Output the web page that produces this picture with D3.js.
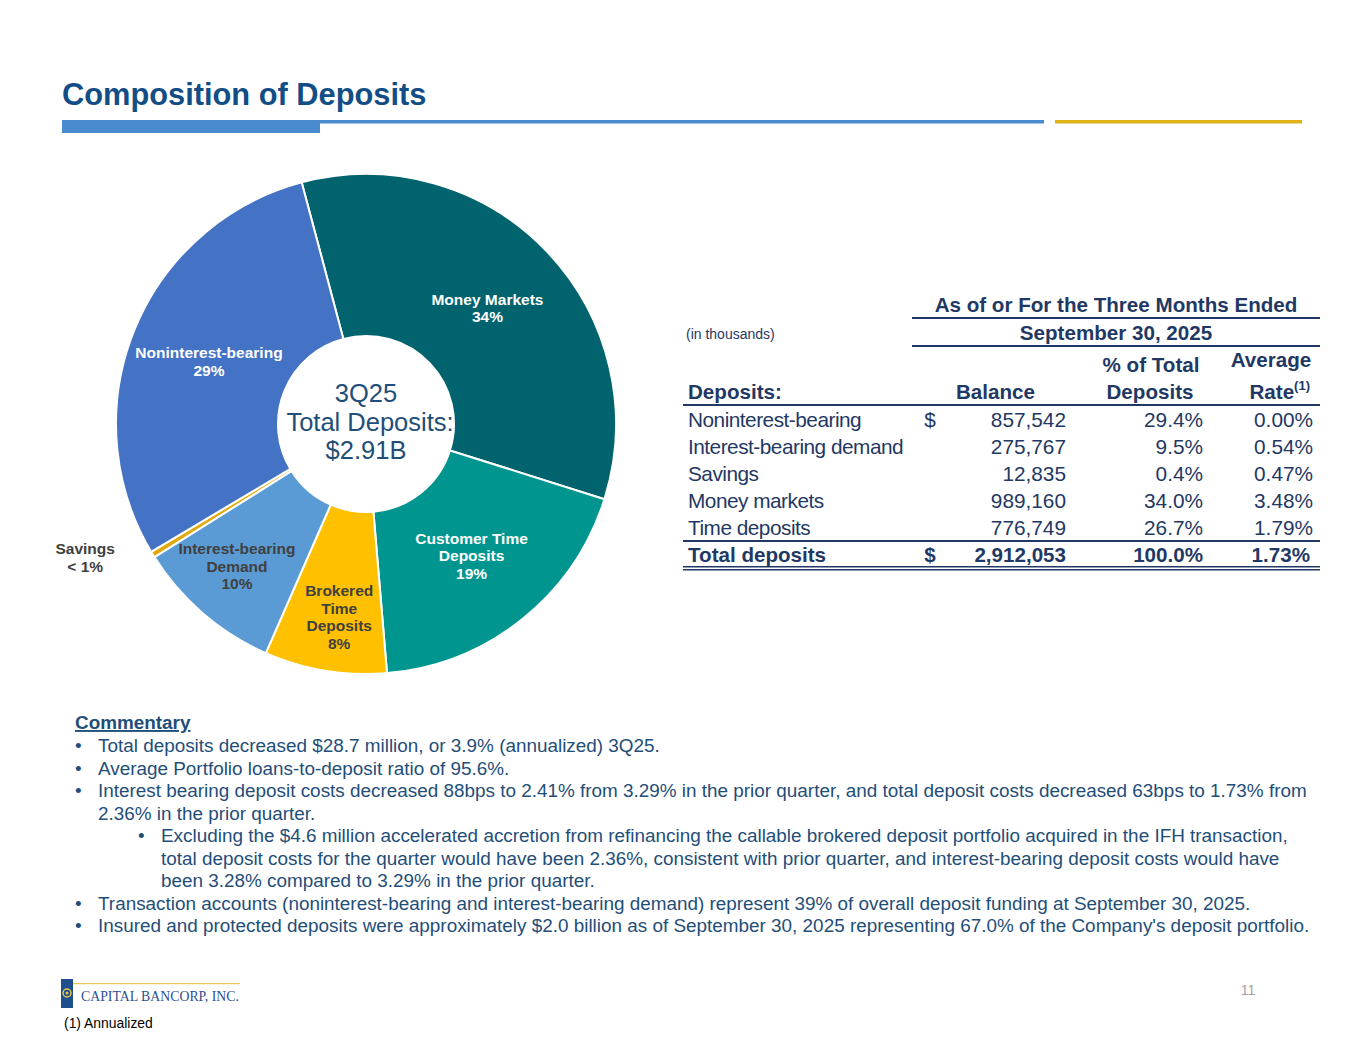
<!DOCTYPE html>
<html>
<head>
<meta charset="utf-8">
<script src="https://cdn.jsdelivr.net/npm/d3@7/dist/d3.min.js"></script>
<style>
  body { margin: 0; background: #fff; }
  svg { display: block; font-family: Arial, "Liberation Sans", sans-serif; }
</style>
</head>
<body>
<svg id="chart" width="1365" height="1055"></svg>
<script>
// pie data (percent of total deposits), clockwise from Money Markets
var sliceNames = ["Money Markets", "Customer Time Deposits", "Brokered Time Deposits", "Interest-bearing Demand", "Savings", "Noninterest-bearing"],
    sliceValues = [34.0, 18.8, 7.9, 9.5, 0.4, 29.4],
    sliceLabels = [["Money Markets", "34%"], ["Customer Time", "Deposits", "19%"], ["Brokered", "Time", "Deposits", "8%"],
                   ["Interest-bearing", "Demand", "10%"], ["Savings", "< 1%"], ["Noninterest-bearing", "29%"]];

// table data
var rowNames = ["Noninterest-bearing", "Interest-bearing demand", "Savings", "Money markets", "Time deposits"],
    rowBalance = ["857,542", "275,767", "12,835", "989,160", "776,749"],
    rowPct = ["29.4%", "9.5%", "0.4%", "34.0%", "26.7%"],
    rowRate = ["0.00%", "0.54%", "0.47%", "3.48%", "1.79%"],
    totalRow = ["Total deposits", "2,912,053", "100.0%", "1.73%"];

var commentary = [
    [0, "Total deposits decreased $28.7 million, or 3.9% (annualized) 3Q25."],
    [0, "Average Portfolio loans-to-deposit ratio of 95.6%."],
    [0, "Interest bearing deposit costs decreased 88bps to 2.41% from 3.29% in the prior quarter, and total deposit costs decreased 63bps to 1.73% from", "2.36% in the prior quarter."],
    [1, "Excluding the $4.6 million accelerated accretion from refinancing the callable brokered deposit portfolio acquired in the IFH transaction,", "total deposit costs for the quarter would have been 2.36%, consistent with prior quarter, and interest-bearing deposit costs would have", "been 3.28% compared to 3.29% in the prior quarter."],
    [0, "Transaction accounts (noninterest-bearing and interest-bearing demand) represent 39% of overall deposit funding at September 30, 2025."],
    [0, "Insured and protected deposits were approximately $2.0 billion as of September 30, 2025 representing 67.0% of the Company's deposit portfolio."]
];

var sliceColors = ["#00636e", "#00968f", "#ffc000", "#5b9bd5", "#e3a90c", "#4472c4"],
    labelColors = ["#fff", "#fff", "#404040", "#404040", "#404040", "#fff"],
    // label radius and angle nudge (deg) per slice
    labelPlace = [[168, 0], [169, 0], [195, -1.5], [192, 1.5], [311, 6], [169, -0.5]];

var svg = d3.select("#chart"),
    navy = "#1f3864",
    blue = "#1f4e79";

// title and rules
svg.append("text").attr("x", 62).attr("y", 105).attr("fill", "#124d85")
    .attr("font-size", 30.8).attr("font-weight", "bold").text("Composition of Deposits");
svg.append("rect").attr("x", 62).attr("y", 120).attr("width", 982).attr("height", 3.5).attr("fill", "#4a8bd0");
svg.append("rect").attr("x", 62).attr("y", 120).attr("width", 258).attr("height", 13).attr("fill", "#4a8bd0");
svg.append("rect").attr("x", 1055).attr("y", 120).attr("width", 247).attr("height", 3.5).attr("fill", "#e0b31a");

// donut
var cx = 366, cy = 424, outerR = 250, innerR = 88;
var pie = d3.pie().sort(null).value(function(d) { return d; })
    .startAngle(-14.9 * Math.PI / 180).endAngle((360 - 14.9) * Math.PI / 180);
var arcs = pie(sliceValues);
var arc = d3.arc().innerRadius(innerR).outerRadius(outerR);
var g = svg.append("g").attr("transform", "translate(" + cx + "," + cy + ")");

g.selectAll("path.slice").data(arcs).enter().append("path")
    .attr("class", "slice")
    .attr("d", arc)
    .attr("fill", function(d, i) { return sliceColors[i]; })
    .attr("stroke", "#fff").attr("stroke-width", 2);

g.selectAll("text.slabel").data(arcs).enter().append("text")
    .attr("class", "slabel")
    .attr("text-anchor", "middle")
    .attr("font-size", 15.5).attr("font-weight", "bold")
    .attr("fill", function(d, i) { return labelColors[i]; })
    .each(function(d, i) {
        var lines = sliceLabels[i],
            a = (d.startAngle + d.endAngle) / 2 + labelPlace[i][1] * Math.PI / 180,
            r = labelPlace[i][0],
            x = r * Math.sin(a), y = -r * Math.cos(a),
            lh = 17.7, y0 = y - (lines.length - 1) * lh / 2 + 5.5;
        var t = d3.select(this);
        lines.forEach(function(l, k) {
            t.append("tspan").attr("x", x).attr("y", y0 + k * lh).text(l);
        });
    });

var centerLines = ["3Q25", "Total Deposits:", "$2.91B"];
g.selectAll("text.center").data(centerLines).enter().append("text")
    .attr("class", "center").attr("text-anchor", "middle")
    .attr("x", function(d, i) { return i == 1 ? 4 : 0; })
    .attr("y", function(d, i) { return -31 + i * 28.5 + 9; })
    .attr("font-size", 25.5).attr("fill", "#1f4e79").text(function(d) { return d; });

// table
var tb = svg.append("g").attr("fill", navy);
var colLabel = 688, colDollar = 930, colBal = 1066, colPct = 1203, colRate = 1313,
    tLeft = 683, tRight = 1320, hLeft = 912, hf = 20.6;

tb.append("text").attr("x", 1116).attr("y", 312).attr("text-anchor", "middle")
    .attr("font-size", hf).attr("font-weight", "bold").text("As of or For the Three Months Ended");
tb.append("rect").attr("x", hLeft).attr("y", 317).attr("width", tRight - hLeft).attr("height", 2);
tb.append("text").attr("x", 1116).attr("y", 340).attr("text-anchor", "middle")
    .attr("font-size", hf).attr("font-weight", "bold").text("September 30, 2025");
tb.append("rect").attr("x", hLeft).attr("y", 345).attr("width", tRight - hLeft).attr("height", 2);
tb.append("text").attr("x", 686).attr("y", 339).attr("font-size", 14).text("(in thousands)");

tb.append("text").attr("x", colLabel).attr("y", 399).attr("font-size", hf).attr("font-weight", "bold").text("Deposits:");
tb.append("text").attr("x", 1035).attr("y", 399).attr("text-anchor", "end").attr("font-size", hf).attr("font-weight", "bold").text("Balance");
tb.append("text").attr("x", 1151).attr("y", 372).attr("text-anchor", "middle").attr("font-size", hf).attr("font-weight", "bold").text("% of Total");
tb.append("text").attr("x", 1150).attr("y", 399).attr("text-anchor", "middle").attr("font-size", hf).attr("font-weight", "bold").text("Deposits");
tb.append("text").attr("x", 1271).attr("y", 367).attr("text-anchor", "middle").attr("font-size", hf).attr("font-weight", "bold").text("Average");
var rt = tb.append("text").attr("x", colRate - 3).attr("y", 399).attr("text-anchor", "end").attr("font-size", hf).attr("font-weight", "bold");
rt.append("tspan").text("Rate");
rt.append("tspan").attr("font-size", 13).attr("dy", -9).text("(1)");
tb.append("rect").attr("x", tLeft).attr("y", 404).attr("width", tRight - tLeft).attr("height", 2);

var rowY = d3.scaleBand().domain(d3.range(rowNames.length + 1)).range([406, 568]);
var rows = tb.selectAll("g.row").data(rowNames).enter().append("g").attr("class", "row")
    .attr("font-size", 20.8)
    .attr("transform", function(d, i) { return "translate(0," + (rowY(i) + rowY.bandwidth() / 2 + 7.5) + ")"; });
rows.append("text").attr("x", colLabel).attr("letter-spacing", -0.5).text(function(d) { return d; });
rows.append("text").attr("x", colBal).attr("text-anchor", "end").text(function(d, i) { return rowBalance[i]; });
rows.append("text").attr("x", colPct).attr("text-anchor", "end").text(function(d, i) { return rowPct[i]; });
rows.append("text").attr("x", colRate).attr("text-anchor", "end").text(function(d, i) { return rowRate[i]; });
rows.filter(function(d, i) { return i == 0; }).append("text").attr("x", colDollar).attr("text-anchor", "middle").text("$");

tb.append("rect").attr("x", tLeft).attr("y", rowY(5) - 1).attr("width", tRight - tLeft).attr("height", 2);
var tot = tb.append("g").attr("font-size", 20.6).attr("font-weight", "bold")
    .attr("transform", "translate(0," + (rowY(5) + rowY.bandwidth() / 2 + 7.5) + ")");
tot.append("text").attr("x", colLabel).text(totalRow[0]);
tot.append("text").attr("x", colDollar).attr("text-anchor", "middle").text("$");
tot.append("text").attr("x", colBal).attr("text-anchor", "end").text(totalRow[1]);
tot.append("text").attr("x", colPct).attr("text-anchor", "end").text(totalRow[2]);
tot.append("text").attr("x", colRate - 3).attr("text-anchor", "end").text(totalRow[3]);
tb.append("rect").attr("x", tLeft).attr("y", 566).attr("width", tRight - tLeft).attr("height", 1.5);
tb.append("rect").attr("x", tLeft).attr("y", 569).attr("width", tRight - tLeft).attr("height", 1.5);

// commentary
var cm = svg.append("g").attr("fill", blue).attr("font-size", 18.9);
cm.append("text").attr("x", 75).attr("y", 729).attr("font-weight", "bold")
    .attr("text-decoration", "underline").text("Commentary");
var lineH = 22.5, y = 752;
commentary.forEach(function(item) {
    var indent = item[0] ? 63 : 0;
    cm.append("text").attr("x", 75 + indent).attr("y", y).text("•");
    for (var k = 1; k < item.length; k++) {
        cm.append("text").attr("x", 98 + indent).attr("y", y).text(item[k]);
        y += lineH;
    }
});

// footer
var lg = svg.append("g");
lg.append("rect").attr("x", 61).attr("y", 979).attr("width", 12).attr("height", 29).attr("fill", "#1f4e8c");
lg.append("circle").attr("cx", 67).attr("cy", 993).attr("r", 4).attr("fill", "none").attr("stroke", "#e8c84a").attr("stroke-width", 1.5);
lg.append("circle").attr("cx", 67).attr("cy", 993).attr("r", 1.5).attr("fill", "#e8c84a");
lg.append("rect").attr("x", 73).attr("y", 983).attr("width", 167).attr("height", 1.2).attr("fill", "#e8c84a");
lg.append("text").attr("x", 81).attr("y", 1001).attr("font-family", "'Liberation Serif', 'DejaVu Serif', serif")
    .attr("font-size", 13.8).attr("fill", "#2f4f8f").text("CAPITAL BANCORP, INC.");
svg.append("text").attr("x", 64).attr("y", 1028).attr("font-size", 13.9).attr("fill", "#000").text("(1) Annualized");
svg.append("text").attr("x", 1248).attr("y", 995).attr("text-anchor", "middle").attr("font-size", 14).attr("fill", "#a0a0a0").text("11");
</script>
</body>
</html>
